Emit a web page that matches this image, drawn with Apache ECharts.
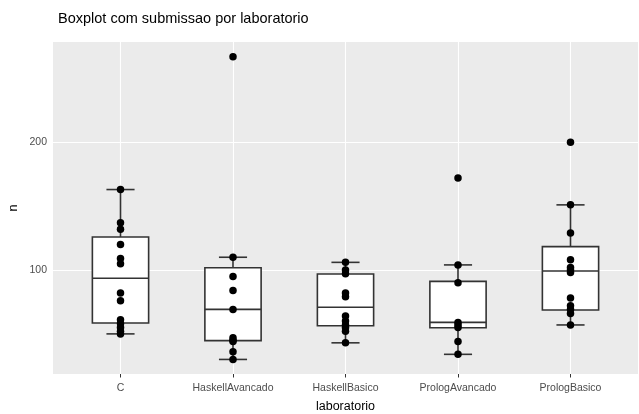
<!DOCTYPE html>
<html>
<head>
<meta charset="utf-8">
<script src="https://cdn.jsdelivr.net/npm/echarts@6/dist/echarts.min.js"></script>
<style>
html,body{margin:0;padding:0;background:#fff;}
#chart{width:639px;height:414px;}
</style>
</head>
<body>
<div id="chart"></div>
<script>
// Categories
const categories = ['C', 'HaskellAvancado', 'HaskellBasico', 'PrologAvancado', 'PrologBasico'];
// Box statistics: [lower whisker, Q1, median, Q3, upper whisker]
const boxC = [50, 58.5, 93.5, 125.8, 163];
const boxHaskellAvancado = [30, 44.7, 69.2, 101.8, 110];
const boxHaskellBasico = [43, 56.4, 70.8, 96.9, 106];
const boxPrologAvancado = [34, 54.8, 59, 91.1, 104];
const boxPrologBasico = [57, 68.7, 99.2, 118.3, 151];
// Individual observations
const pointsC = [163, 137, 132, 120, 109, 105, 82, 76, 61, 58, 55, 52, 50];
const pointsHaskellAvancado = [267, 110, 95, 84, 69, 47, 45, 44, 36, 30];
const pointsHaskellBasico = [106, 100, 97, 82, 79, 64, 60, 57, 55, 52, 43];
const pointsPrologAvancado = [172, 104, 90, 59, 57, 55, 44, 34];
const pointsPrologBasico = [200, 151, 129, 108, 102, 100, 98, 78, 72, 69, 66, 57];
// Tick labels
const yTicks = [100, 200];

const boxes = [boxC, boxHaskellAvancado, boxHaskellBasico, boxPrologAvancado, boxPrologBasico];
const points = [pointsC, pointsHaskellAvancado, pointsHaskellBasico, pointsPrologAvancado, pointsPrologBasico];

const boxData = boxes.map((b, i) => [i].concat(b));
const pointData = [];
points.forEach((arr, i) => arr.forEach(v => pointData.push([i, v])));
const catIdx = categories.map((c, i) => i);

const STROKE = '#333333';
const LW = 1.6;
function renderBox(params, api) {
  const x = api.value(0);
  const lo = api.coord([x, api.value(1)]);
  const q1 = api.coord([x, api.value(2)]);
  const med = api.coord([x, api.value(3)]);
  const q3 = api.coord([x, api.value(4)]);
  const hi = api.coord([x, api.value(5)]);
  const hb = api.size([0.5, 0])[0] / 2;
  const hc = api.size([0.25, 0])[0] / 2;
  const cx = lo[0];
  const ls = {stroke: STROKE, lineWidth: LW, fill: null};
  return {
    type: 'group',
    children: [
      {type: 'line', shape: {x1: cx, y1: hi[1], x2: cx, y2: q3[1]}, style: ls},
      {type: 'line', shape: {x1: cx, y1: q1[1], x2: cx, y2: lo[1]}, style: ls},
      {type: 'line', shape: {x1: cx - hc, y1: hi[1], x2: cx + hc, y2: hi[1]}, style: ls},
      {type: 'line', shape: {x1: cx - hc, y1: lo[1], x2: cx + hc, y2: lo[1]}, style: ls},
      {type: 'rect', shape: {x: cx - hb, y: q3[1], width: 2 * hb, height: q1[1] - q3[1]},
        style: {fill: '#ffffff', stroke: STROKE, lineWidth: LW}},
      {type: 'line', shape: {x1: cx - hb, y1: med[1], x2: cx + hb, y2: med[1]}, style: ls}
    ]
  };
}

const chart = echarts.init(document.getElementById('chart'), null, {renderer: 'canvas'});
chart.setOption({
  animation: false,
  backgroundColor: '#ffffff',
  title: {
    text: 'Boxplot com submissao por laboratorio',
    left: 53, top: 6,
    textStyle: {fontFamily: 'Liberation Sans', fontSize: 14.5, fontWeight: 'normal', color: '#000000'}
  },
  grid: {left: 53, right: 1, top: 42, bottom: 40, show: true, backgroundColor: '#EBEBEB', borderWidth: 0,
    containLabel: false, outerBoundsMode: 'none'},
  xAxis: {
    type: 'value', min: -0.6, max: 4.6,
    name: 'laboratorio', nameLocation: 'middle', nameGap: 26,
    nameTextStyle: {fontFamily: 'Liberation Sans', fontSize: 12.5, color: '#000000'},
    axisLine: {show: false},
    axisTick: {show: true, length: 3.5, lineStyle: {color: '#333333', width: 1}, customValues: catIdx},
    axisLabel: {customValues: catIdx, margin: 9, fontFamily: 'Liberation Sans', fontSize: 10.5, color: '#4D4D4D',
      formatter: v => categories[Math.round(v)] || ''},
    splitLine: {show: false}
  },
  yAxis: {
    type: 'value', min: 18.6, max: 278.5,
    name: 'n', nameLocation: 'middle', nameGap: 33, nameMoveOverlap: false,
    nameTextStyle: {fontFamily: 'Liberation Sans', fontSize: 12.5, color: '#000000'},
    axisLine: {show: false},
    axisTick: {show: true, length: 3.5, lineStyle: {color: '#333333', width: 1}, customValues: yTicks},
    axisLabel: {customValues: yTicks, margin: 6, fontFamily: 'Liberation Sans', fontSize: 10.5, color: '#4D4D4D'},
    splitLine: {show: false}
  },
  series: [
    {
      type: 'scatter', data: [], z: 1, silent: true,
      markLine: {
        z: 1,
        silent: true, symbol: 'none', animation: false, label: {show: false},
        lineStyle: {color: '#ffffff', width: 1.1, type: 'solid'},
        data: yTicks.map(v => ({yAxis: v})).concat(catIdx.map(v => ({xAxis: v})))
      }
    },
    {type: 'custom', data: boxData, renderItem: renderBox, z: 10, silent: true},
    {type: 'scatter', data: pointData, symbol: 'circle', symbolSize: 7.5, z: 11,
      itemStyle: {color: '#000000', opacity: 1}}
  ]
});
</script>
</body>
</html>
